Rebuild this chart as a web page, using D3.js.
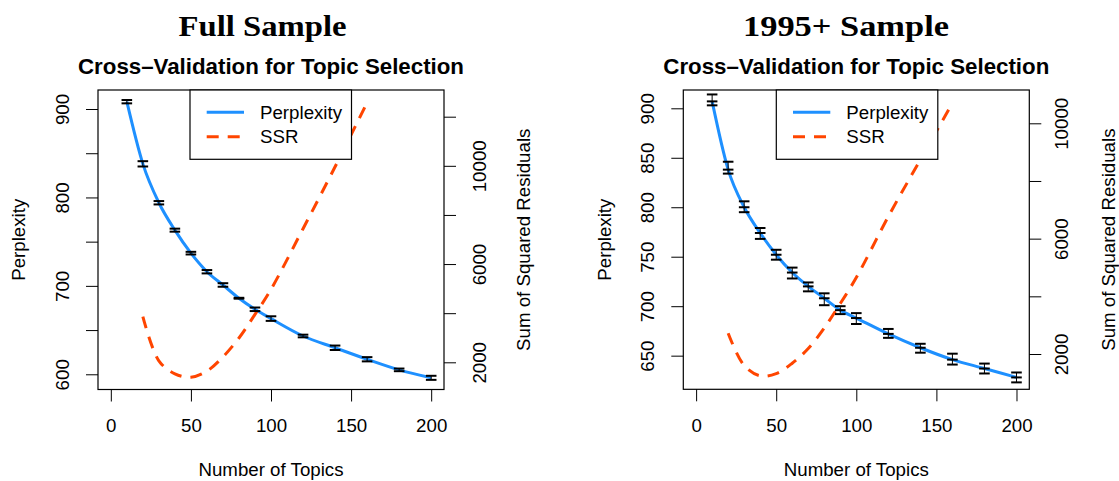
<!DOCTYPE html>
<html><head><meta charset="utf-8">
<script src="https://cdn.jsdelivr.net/npm/d3@7"></script>
<style>body{margin:0;background:#fff} text{font-family:"Liberation Sans",Arial,sans-serif}</style>
</head><body><svg id="c" width="1119" height="481"></svg>
<script>
const topics = [10,20,30,40,50,60,70,80,90,100,120,140,160,180,200];
const ssrTopics = [20,30,40,50,60,70,80,90,100,120,140,160];
const perpFull = [908.3,838,794,763,737,716,701,686,673.5,663,643.3,630,617,605,596];
const perpFullErr = [1.9,3,1.9,1.7,1.5,1.9,2,0.5,2,2.6,1.5,2.5,2.4,1.5,2.3];
const ssrFull = [3860,2060,1530,1390,1640,2220,2990,3950,4970,7440,9960,12580];
const perp95 = [907,838,800,774,752,734,720,708,696,688,672,658,646,637,628];
const perp95Hi = [914,846,806,779,757,739,724,713,700,693,677,662,652,642,633];
const perp95Lo = [903,834,795,768,747,728,715,701,692,682,668,653,641,632,623];
const ssr95 = [2720,1600,1240,1320,1680,2190,2900,3750,4650,6770,8740,10700];
const xTicks = [0,50,100,150,200];
const perpTicksFull = [600,650,700,750,800,850,900];
const perpLabelsFull = [600,700,800,900];
const perpTicks95 = [650,700,750,800,850,900];
const perpLabels95 = [650,700,750,800,850,900];
const ssrTicksFull = [2000,4000,6000,8000,10000,12000];
const ssrTicks95 = [2000,4000,6000,8000,10000];
const ssrLabels = [2000,6000,10000];
const sampleTitles = ["Full Sample","1995+ Sample"];
const mainTitle = "Cross\u2013Validation for Topic Selection";
const xLabel = "Number of Topics", yLabel = "Perplexity", y2Label = "Sum of Squared Residuals";
const legendLabels = ["Perplexity","SSR"];

const BLUE = "#1E90FF", RED = "#FF4500", FS = 18.7;
const svg = d3.select("#c");

const panels = [
  {title: sampleTitles[0], titleX: 262.5, titleLen: 168, x0: 98, x1: 444, y0: 90, y1: 389.5,
   xDom: [-8,208], yDom: [582.8,921.5], sDom: [892.6,13087],
   perp: perpFull, hi: perpFull.map((v,i)=>v+perpFullErr[i]), lo: perpFull.map((v,i)=>v-perpFullErr[i]), mid: null,
   ssr: ssrFull, yTicks: perpTicksFull, yLabels: perpLabelsFull, sTicks: ssrTicksFull,
   yLabX: 62, yTitleX: 18.5, sLabX: 479, sTitleX: 523.3, legX: 190},
  {title: sampleTitles[1], titleX: 846, titleLen: 206, x0: 683.3, x1: 1029.3, y0: 90, y1: 389.3,
   xDom: [-8,208], yDom: [616,918.5], sDom: [776,11155],
   perp: perp95, hi: perp95Hi, lo: perp95Lo, mid: perp95,
   ssr: ssr95, yTicks: perpTicks95, yLabels: perpLabels95, sTicks: ssrTicks95,
   yLabX: 647.3, yTitleX: 603.8, sLabX: 1061, sTitleX: 1108.5, legX: 776.3}
];

panels.forEach(p => {
  const g = svg.append("g");
  const x = d3.scaleLinear().domain(p.xDom).range([p.x0, p.x1]);
  const y = d3.scaleLinear().domain(p.yDom).range([p.y1, p.y0]);
  const s = d3.scaleLinear().domain(p.sDom).range([p.y1, p.y0]);
  const cx = (p.x0 + p.x1) / 2, cy = (p.y0 + p.y1) / 2;

  g.append("text").attr("x", p.titleX).attr("y", 36).attr("text-anchor", "middle")
    .style("font-family", "'Liberation Serif','DejaVu Serif',serif").attr("font-weight", "bold")
    .attr("font-size", 30).attr("textLength", p.titleLen).attr("lengthAdjust", "spacingAndGlyphs").text(p.title);
  g.append("text").attr("x", cx).attr("y", 74).attr("text-anchor", "middle")
    .attr("font-weight", "bold").attr("font-size", 21.5).attr("textLength", 386).attr("lengthAdjust", "spacingAndGlyphs").text(mainTitle);

  // axes
  const gx = g.append("g").attr("transform", `translate(0,${p.y1})`)
    .call(d3.axisBottom(x).tickValues(xTicks).tickSize(12).tickPadding(17).tickFormat(d3.format("d")));
  const gy = g.append("g").attr("transform", `translate(${p.x0},0)`)
    .call(d3.axisLeft(y).tickValues(p.yTicks).tickSize(12).tickFormat(d => p.yLabels.includes(d) ? d : ""));
  gy.selectAll("text").attr("x", null).attr("dy", "0.36em")
    .attr("transform", `translate(${p.yLabX - p.x0},0) rotate(-90)`).attr("text-anchor", "middle");
  const gs = g.append("g").attr("transform", `translate(${p.x1},0)`)
    .call(d3.axisRight(s).tickValues(p.sTicks).tickSize(12).tickFormat(d => ssrLabels.includes(d) ? d : ""));
  gs.selectAll("text").attr("x", null).attr("dy", "0.36em")
    .attr("transform", `translate(${p.sLabX - p.x1},0) rotate(-90)`).attr("text-anchor", "middle");
  [gx, gy, gs].forEach(a => {
    a.select(".domain").remove();
    a.selectAll("text").attr("font-size", FS).attr("fill", "#000").style("font-family", "'Liberation Sans',Arial,sans-serif");
    a.selectAll("line").attr("stroke", "#000");
  });

  // axis titles
  g.append("text").attr("x", cx).attr("y", 476).attr("text-anchor", "middle").attr("font-size", FS).text(xLabel);
  g.append("text").attr("transform", `translate(${p.yTitleX},${cy}) rotate(-90)`).attr("dy", "0.36em")
    .attr("text-anchor", "middle").attr("font-size", FS).text(yLabel);
  g.append("text").attr("transform", `translate(${p.sTitleX},${cy}) rotate(-90)`).attr("dy", "0.36em")
    .attr("text-anchor", "middle").attr("font-size", FS).text(y2Label);

  // lines
  g.append("path").datum(topics.map((t,i) => [t, p.perp[i]]))
    .attr("d", d3.line().x(d => x(d[0])).y(d => y(d[1])).curve(d3.curveMonotoneX))
    .attr("fill", "none").attr("stroke", BLUE).attr("stroke-width", 3);
  g.append("path").datum(ssrTopics.map((t,i) => [t, p.ssr[i]]))
    .attr("d", d3.line().x(d => x(d[0])).y(d => s(d[1])).curve(d3.curveCatmullRom))
    .attr("fill", "none").attr("stroke", RED).attr("stroke-width", 3).attr("stroke-dasharray", "12,9");

  // error bars
  const eb = g.append("g").attr("stroke", "#000");
  topics.forEach((t,i) => {
    const xx = x(t);
    eb.append("line").attr("x1", xx).attr("x2", xx).attr("y1", y(p.lo[i])).attr("y2", y(p.hi[i])).attr("stroke-width", 1);
    const caps = [p.lo[i], p.hi[i]];
    if (p.mid) caps.push(p.mid[i]);
    caps.forEach(c => eb.append("line").attr("x1", xx - 5.3).attr("x2", xx + 5.3)
      .attr("y1", y(c)).attr("y2", y(c)).attr("stroke-width", 2));
  });

  // box
  g.append("rect").attr("x", p.x0).attr("y", p.y0).attr("width", p.x1 - p.x0).attr("height", p.y1 - p.y0)
    .attr("fill", "none").attr("stroke", "#000").attr("stroke-width", 1.2);

  // legend
  const lg = g.append("g");
  lg.append("rect").attr("x", p.legX).attr("y", p.y0).attr("width", 161.5).attr("height", 69.3)
    .attr("fill", "#fff").attr("stroke", "#000").attr("stroke-width", 1.2);
  const ly = [p.y0 + 22.3, p.y0 + 46.7];
  lg.append("line").attr("x1", p.legX + 16.7).attr("x2", p.legX + 54).attr("y1", ly[0]).attr("y2", ly[0])
    .attr("stroke", BLUE).attr("stroke-width", 3);
  lg.append("line").attr("x1", p.legX + 16.7).attr("x2", p.legX + 54).attr("y1", ly[1]).attr("y2", ly[1])
    .attr("stroke", RED).attr("stroke-width", 3).attr("stroke-dasharray", "12,9");
  legendLabels.forEach((l,i) => lg.append("text").attr("x", p.legX + 70).attr("y", ly[i]).attr("dy", "0.36em")
    .attr("font-size", FS).text(l));
});
</script></body></html>
